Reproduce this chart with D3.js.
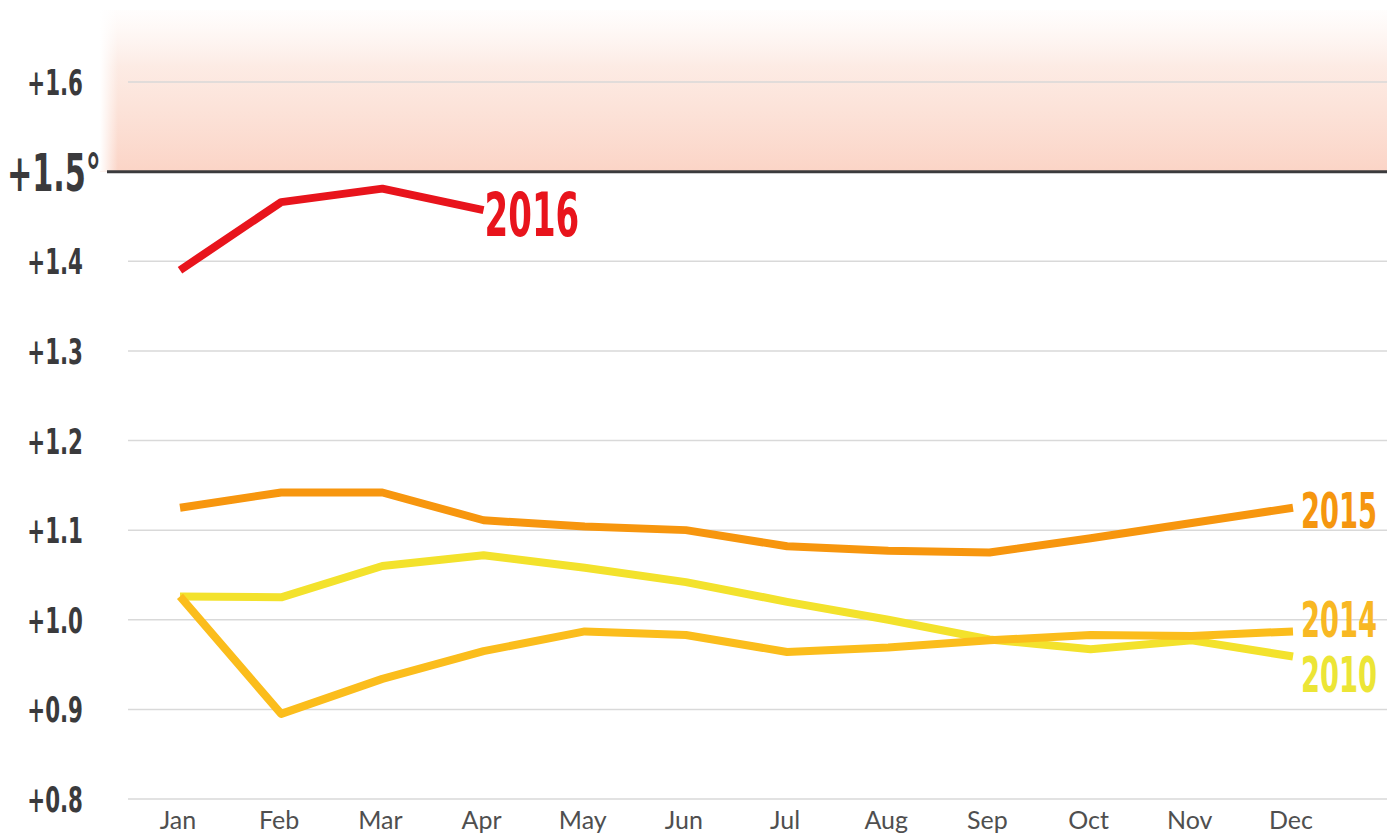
<!DOCTYPE html>
<html>
<head>
<meta charset="utf-8">
<script src="https://cdn.jsdelivr.net/npm/d3@7"></script>
<style>
  body { margin: 0; background: #fff; }
  svg { display: block; }
  .cond { font-family: "DejaVu Sans Condensed", "DejaVu Sans", sans-serif; font-weight: 700; }
  .month { font-family: "Lato", "Noto Sans", sans-serif; font-size: 25px; fill: #4f4f4f; }
</style>
</head>
<body>
<div id="chart"></div>
<script>
var months = ["Jan","Feb","Mar","Apr","May","Jun","Jul","Aug","Sep","Oct","Nov","Dec"];
var yTicks = [0.8, 0.9, 1.0, 1.1, 1.2, 1.3, 1.4, 1.6];
var limit = 1.5;

var v2016 = [1.39, 1.466, 1.481, 1.457];
var v2015 = [1.125, 1.142, 1.142, 1.111, 1.104, 1.100, 1.082, 1.077, 1.075, 1.091, 1.108, 1.125];
var v2014 = [1.026, 0.895, 0.934, 0.965, 0.987, 0.983, 0.964, 0.969, 0.977, 0.983, 0.982, 0.987];
var v2010 = [1.026, 1.025, 1.060, 1.072, 1.058, 1.042, 1.020, 1.000, 0.978, 0.967, 0.977, 0.959];

var series = [
  {name: "2010", values: v2010, color: "#f3e22c", label: "#ece536", dx: 8, dy: 36, size: 49},
  {name: "2014", values: v2014, color: "#fbbd1c", label: "#f8b823", dx: 8, dy: 6, size: 49},
  {name: "2015", values: v2015, color: "#f7960e", label: "#f5960f", dx: 8, dy: 20, size: 49},
  {name: "2016", values: v2016, color: "#e8141c", label: "#e8141c", dx: 1, dy: 26, size: 61}
];

var w = 1387, h = 833;

var svg = d3.select("#chart").append("svg")
	.attr("width", w)
	.attr("height", h)

var x = d3.scalePoint()
	.domain(months)
	.range([180, 1293])

var y = d3.scaleLinear()
	.domain([0.8, 1.6])
	.range([799, 82])

// pink zone above +1.5
var defs = svg.append("defs");
var gv = defs.append("linearGradient").attr("id", "zoneV")
	.attr("x1", 0).attr("y1", 0).attr("x2", 0).attr("y2", 1);
gv.append("stop").attr("offset", "0%").attr("stop-color", "#fdeee8").attr("stop-opacity", 0.1);
gv.append("stop").attr("offset", "35%").attr("stop-color", "#fce6dd").attr("stop-opacity", 0.8);
gv.append("stop").attr("offset", "100%").attr("stop-color", "#fbd4c6").attr("stop-opacity", 1);

var gh = defs.append("linearGradient").attr("id", "fadeH")
	.attr("x1", 0).attr("y1", 0).attr("x2", 1).attr("y2", 0);
gh.append("stop").attr("offset", "0%").attr("stop-color", "#fff").attr("stop-opacity", 1);
gh.append("stop").attr("offset", "100%").attr("stop-color", "#fff").attr("stop-opacity", 0);

svg.append("rect")
	.attr("x", 100).attr("y", 10)
	.attr("width", w - 100).attr("height", y(limit) - 10)
	.style("fill", "url(#zoneV)")

svg.append("rect")
	.attr("x", 100).attr("y", 10)
	.attr("width", 18).attr("height", y(limit) - 10)
	.style("fill", "url(#fadeH)")

// grid
svg.selectAll(".grid")
	.data(yTicks)
	.enter()
	.append("line")
	.attr("class", "grid")
	.attr("x1", 128).attr("x2", w)
	.attr("y1", function(d) { return y(d) })
	.attr("y2", function(d) { return y(d) })
	.style("stroke", "#d9d9d9")
	.style("stroke-width", 1.5)

svg.append("line")
	.attr("x1", 107).attr("x2", w)
	.attr("y1", y(limit)).attr("y2", y(limit))
	.style("stroke", "#3b3b3d")
	.style("stroke-width", 3)

// y labels
svg.selectAll(".ylab")
	.data(yTicks)
	.enter()
	.append("text")
	.attr("class", "cond")
	.attr("text-anchor", "end")
	.attr("transform", function(d) { return "translate(83," + (y(d) + 13) + ") scale(0.66,1)" })
	.style("font-size", "36px")
	.style("fill", "#3a3a3c")
	.text(function(d) { return "+" + d.toFixed(1) })

svg.append("text")
	.attr("class", "cond")
	.attr("text-anchor", "end")
	.attr("transform", "translate(101," + (y(limit) + 19) + ") scale(0.66,1)")
	.style("font-size", "51px")
	.style("fill", "#3a3a3c")
	.text("+1.5°")

// month labels
svg.selectAll(".month")
	.data(months)
	.enter()
	.append("text")
	.attr("class", "month")
	.attr("x", function(d) { return x(d) - 2 })
	.attr("y", 829)
	.attr("text-anchor", "middle")
	.text(function(d) { return d })

var line = d3.line()
	.x(function(d, i) { return x(months[i]) })
	.y(function(d) { return y(d) })

svg.selectAll(".series")
	.data(series)
	.enter()
	.append("path")
	.attr("class", "series")
	.attr("d", function(d) { return line(d.values) })
	.style("fill", "none")
	.style("stroke", function(d) { return d.color })
	.style("stroke-width", 8)
	.style("stroke-linejoin", "round")

// end labels
svg.selectAll(".endlab")
	.data(series)
	.enter()
	.append("text")
	.attr("class", "cond")
	.attr("transform", function(d) {
		var n = d.values.length - 1;
		return "translate(" + (x(months[n]) + d.dx) + "," + (y(d.values[n]) + d.dy) + ") scale(0.62,1)";
	})
	.style("font-size", function(d) { return d.size + "px" })
	.style("fill", function(d) { return d.label })
	.text(function(d) { return d.name })
</script>
</body>
</html>
